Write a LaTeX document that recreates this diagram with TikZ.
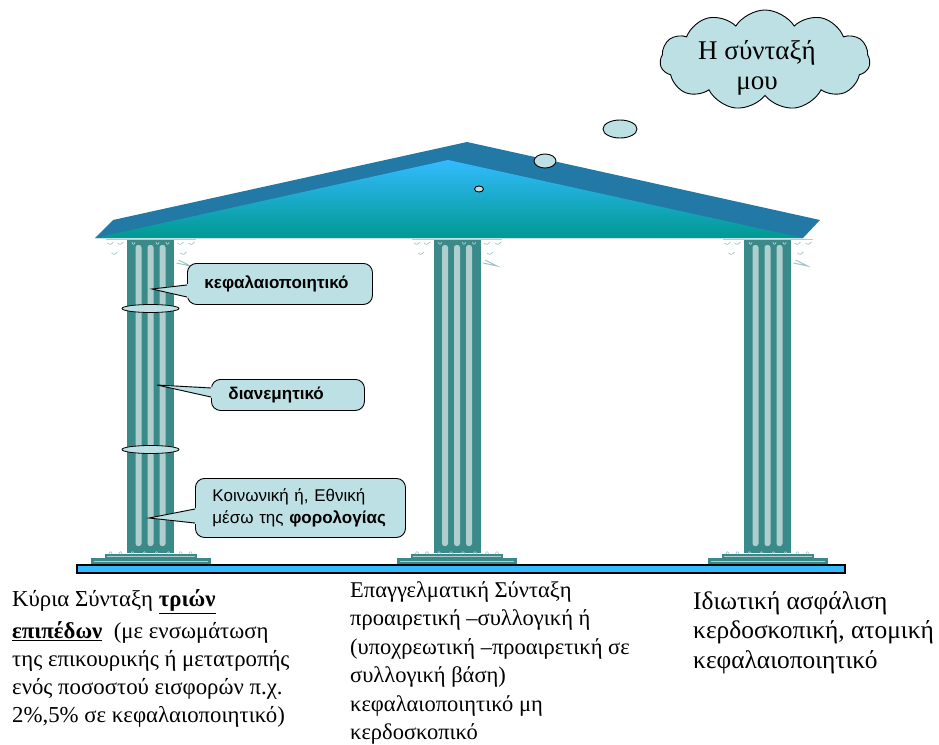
\documentclass[tikz,border=0pt]{standalone}
\usepackage{fontspec}
\setmainfont{Liberation Serif}
\newfontfamily\serifgr{Liberation Serif}
\newfontfamily\sansgr{Liberation Sans}
\usetikzlibrary{shapes.symbols,calc}
\definecolor{roofdark}{RGB}{35,121,165}
\definecolor{skyb}{RGB}{51,187,255}
\definecolor{tealb}{RGB}{0,153,145}
\definecolor{colteal}{RGB}{58,138,138}
\definecolor{flute}{RGB}{176,206,206}
\definecolor{calfill}{RGB}{188,224,227}
\definecolor{barblue}{RGB}{51,187,255}
\begin{document}
\begin{tikzpicture}[x=1pt,y=-1pt,
  calbox/.style={draw=black, fill=calfill, rounded corners=9, line width=0.9,
    anchor=north west, inner ysep=0, inner xsep=17, align=left},
  calfont/.style={font=\sansgr\fontsize{17}{22}\selectfont},
  pointer/.style={draw=black, line width=0.9},
  bubble/.style={draw=black, fill=calfill, line width=0.9},
  ring/.style={draw=black, fill=calfill, line width=0.8},
  deco/.style={draw=flute!85!colteal, line width=0.7},
  bodytext/.style={anchor=north west, inner sep=0, align=left}]
\useasboundingbox (0,0) rectangle (939,744);

% roof
\fill[roofdark] (95,238) -- (113,220) -- (467,142) -- (820,220) -- (803,238) -- cycle;
\shade[top color=skyb, bottom color=tealb] (95,238) -- (448,160) -- (803,238) -- cycle;

% columns
\foreach \cx in {150.5,457,767.5}{
  \draw[flute, line width=1] (\cx-45,239.5) -- (\cx+45,239.5);
  \fill[colteal] (\cx-23.5,240) rectangle (\cx+23.5,553);
  \foreach \sx in {-12,0,12}{
    \fill[flute, rounded corners=2.5] (\cx+\sx-3,245) rectangle (\cx+\sx+3,546);
  }
  % capital ornaments
  \foreach \dx/\dy in {-40/243,-30/243,-36/253,30/243,41/243,33/253}{
    \draw[deco] (\cx+\dx-3,\dy) .. controls (\cx+\dx,\dy+2) .. (\cx+\dx+3,\dy-1);
  }
  \draw[deco, line width=1] (\cx+26,263) -- (\cx+40,266) -- (\cx+28,260);
  \foreach \dx in {-17,7,17}{
    \draw[flute, line width=0.7] (\cx+\dx-1.5,242) .. controls (\cx+\dx-1.5,245) and (\cx+\dx+1.5,245) .. (\cx+\dx+1.5,242);
  }
  % base ornaments
  \foreach \dx in {-40,-30,-18,-6,6,18}{
    \draw[deco] (\cx+\dx-1.5,554) .. controls (\cx+\dx-1.5,551) and (\cx+\dx+1.5,551) .. (\cx+\dx+1.5,554);
  }
  \foreach \dx in {30,40}{
    \draw[flute, line width=0.7] (\cx+\dx-1.5,554) .. controls (\cx+\dx-1.5,551) and (\cx+\dx+1.5,551) .. (\cx+\dx+1.5,554);
  }
  % plinths
  \fill[colteal] (\cx-46,554) rectangle (\cx+46,558);
  \draw[flute, line width=0.9] (\cx-44,556) -- (\cx+44,556);
  \fill[colteal] (\cx-60,558) rectangle (\cx+60,564.5);
  \draw[flute, line width=0.9] (\cx-57,561.3) -- (\cx+57,561.3);
}

% ground bar
\draw[black, line width=1.3, fill=barblue] (77,565) rectangle (845,573);

% rings on left column
\draw[ring] (150.5,308.5) ellipse [x radius=28.5, y radius=4];
\draw[ring] (150.5,449.5) ellipse [x radius=28.5, y radius=4];

% thought bubbles and cloud
\draw[bubble] (479,189) ellipse [x radius=4.5, y radius=3];
\draw[bubble] (545,161) ellipse [x radius=11, y radius=7];
\draw[bubble] (620,129) ellipse [x radius=17, y radius=9];
\node[cloud, cloud puffs=11, cloud puff arc=115, aspect=2.1, draw=black, fill=calfill,
  line width=0.9, minimum width=210, minimum height=100, inner sep=0] (cloud) at (765,60) {};
\node[font=\serifgr\fontsize{27}{30}\selectfont, align=center, inner sep=0] (cloudtext) at (757,68) {Η σύνταξή\\μου};

% callouts
\node[calbox, calfont, text width=151, minimum height=41] (c1) at (187,263) {\bfseries κεφαλαιοποιητικό};
\coordinate (t1) at (152,289);
\fill[calfill] ($(c1.north west)+(1.5,21)$) -- (t1) -- ($(c1.north west)+(1.5,35)$) -- cycle;
\draw[pointer] ($(c1.north west)+(0,22)$) -- (t1) -- ($(c1.north west)+(0,34)$);

\node[calbox, calfont, text width=119, minimum height=31] (c2) at (211,379) {\bfseries διανεμητικό};
\coordinate (t2) at (157,385);
\fill[calfill] ($(c2.north west)+(1.5,8)$) -- (t2) -- ($(c2.north west)+(1.5,19)$) -- cycle;
\draw[pointer] ($(c2.north west)+(0,9)$) -- (t2) -- ($(c2.north west)+(0,18)$);

\node[calbox, calfont, text width=176, minimum height=59] (c3) at (195,478) {Κοινωνική ή, Εθνική\\μέσω της \textbf{φορολογίας}};
\coordinate (t3) at (149,518);
\fill[calfill] ($(c3.north west)+(1.5,30)$) -- (t3) -- ($(c3.north west)+(1.5,46)$) -- cycle;
\draw[pointer] ($(c3.north west)+(0,31)$) -- (t3) -- ($(c3.north west)+(0,45)$);

% texts under the columns
\node[bodytext, font=\serifgr\fontsize{22.8}{28}\selectfont] (ltext) at (12,589.5)
  {Κύρια Σύνταξη \underline{\textbf{τριών}}\\[4pt]
   \underline{\textbf{επιπέδων}}\ \ (με ενσωμάτωση\\
   της επικουρικής ή μετατροπής\\
   ενός ποσοστού εισφορών π.χ.\\
   2\%,5\% σε κεφαλαιοποιητικό)};
\node[bodytext, font=\serifgr\fontsize{22.5}{28.4}\selectfont] (mtext) at (350,581.5)
  {Επαγγελματική Σύνταξη\\
   προαιρετική –συλλογική ή\\
   (υποχρεωτική –προαιρετική σε\\
   συλλογική βάση)\\
   κεφαλαιοποιητικό μη\\
   κερδοσκοπικό};
\node[bodytext, font=\serifgr\fontsize{25.4}{29.5}\selectfont] (rtext) at (693,591)
  {Ιδιωτική ασφάλιση\\
   κερδοσκοπική, ατομική\\
   κεφαλαιοποιητικό};
\end{tikzpicture}
\end{document}
